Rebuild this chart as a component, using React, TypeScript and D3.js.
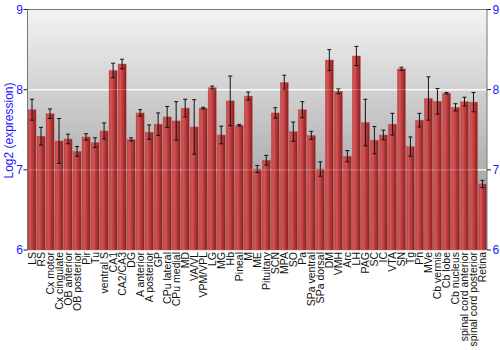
import React from "react";
import * as d3 from "d3";

const categories = ["LS","RS","Cx motor","Cx cingulate","OB anterior","OB posterior","Pir","Tu","ventral S","CA1","CA2/CA3","DG","A anterior","A posterior","GP","CPu lateral","CPu medial","MD","VA/VL","VPM/VPL","LG","MG","Hb","Pineal","M","ME","Pituitary","SCN","MPA","SO","Pa","SPa ventral","SPa dorsal","DM","VMH","Arc","LH","PAG","SC","IC","VTA","SN","Tg","Pn","MVe","Cb vermis","Cb lobe","Cb nucleus","spinal cord anterior","spinal cord posterior","Retina"];
const values = [7.75,7.42,7.70,7.36,7.385,7.23,7.41,7.34,7.485,8.24,8.32,7.38,7.71,7.47,7.57,7.66,7.61,7.77,7.535,7.77,8.025,7.435,7.86,7.556,7.92,7.01,7.12,7.71,8.09,7.476,7.75,7.43,7.01,8.37,7.98,7.17,8.42,7.59,7.37,7.435,7.57,8.26,7.29,7.62,7.89,7.855,7.955,7.78,7.85,7.845,6.824];
const errors = [0.13,0.11,0.06,0.28,0.06,0.06,0.04,0.06,0.1,0.09,0.06,0.02,0.04,0.09,0.14,0.13,0.24,0.11,0.34,0.01,0.02,0.11,0.31,0.01,0.05,0.045,0.06,0.065,0.09,0.12,0.1,0.05,0.09,0.13,0.03,0.07,0.12,0.29,0.17,0.06,0.135,0.02,0.12,0.085,0.27,0.16,0.01,0.045,0.055,0.12,0.045];
const yTicks = [6,7,8,9];
const yDomain = [6,9];

export default function App() {
  const W = 500, H = 350;
  const left = 27.5, right = 487, top = 9.5, bottom = 250;
  const x = d3.scaleBand<string>().domain(categories).range([left, right]).paddingInner(0.1).paddingOuter(0.05);
  const y = d3.scaleLinear().domain(yDomain).range([bottom, top]);
  const blue = "#1a1aff";
  const font = "'Liberation Sans', Arial, sans-serif";
  return (
    <svg width={W} height={H} style={{ position: "absolute", left: 0, top: 0 }} fontFamily={font}>
      <defs>
        <linearGradient id="bg" x1="0" y1="0" x2="0" y2="1">
          <stop offset="0%" stopColor="#f3f3f3" />
          <stop offset="100%" stopColor="#8e8e8e" />
        </linearGradient>
        <linearGradient id="bar" x1="0" y1="0" x2="1" y2="0">
          <stop offset="0%" stopColor="#b83a3a" />
          <stop offset="25%" stopColor="#d45656" />
          <stop offset="60%" stopColor="#b83838" />
          <stop offset="100%" stopColor="#842020" />
        </linearGradient>
      </defs>
      <rect x={left} y={top} width={right - left} height={bottom - top} fill="url(#bg)" />
      {yTicks.filter(t => t > 6 && t < 9).map(t => (
        <line key={"g" + t} x1={left} x2={right} y1={y(t)} y2={y(t)} stroke="#ffffff" strokeOpacity={0.85} strokeWidth={1.5} />
      ))}
      {categories.map((c, i) => {
        const bx = x(c)!;
        const bw = x.bandwidth();
        const v = values[i];
        const e = errors[i];
        const cx = bx + bw / 2;
        return (
          <g key={c}>
            <rect x={bx} y={y(v)} width={bw} height={bottom - y(v)} fill="url(#bar)" stroke="#c95a5a" strokeWidth={0.4} />
            <line x1={cx} x2={cx} y1={y(v + e)} y2={y(v - e)} stroke="#111" strokeWidth={1} />
            <line x1={cx - 2} x2={cx + 2} y1={y(v + e)} y2={y(v + e)} stroke="#111" strokeWidth={1} />
            <line x1={cx - 2} x2={cx + 2} y1={y(v - e)} y2={y(v - e)} stroke="#111" strokeWidth={1} />
          </g>
        );
      })}
      {yTicks.filter(t => t > 6 && t < 9).map(t => (
        <line key={"go" + t} x1={left} x2={right} y1={y(t)} y2={y(t)} stroke="#ffffff" strokeOpacity={0.25} strokeWidth={1} />
      ))}
      <line x1={left} x2={right} y1={top} y2={top} stroke="#777" strokeWidth={1} />
      <line x1={left} x2={left} y1={top} y2={bottom} stroke="#777" strokeWidth={1} />
      <line x1={right} x2={right} y1={top} y2={bottom} stroke="#777" strokeWidth={1} />
      {yTicks.map(t => (
        <g key={"t" + t}>
          <line x1={left - 4} x2={left} y1={y(t)} y2={y(t)} stroke="#222" strokeWidth={1} />
          <line x1={right} x2={right + 4} y1={y(t)} y2={y(t)} stroke="#222" strokeWidth={1} />
          <text x={left - 4.5} y={y(t)} dy="0.36em" textAnchor="end" fontSize={12} fill={blue}>{t}</text>
          <text x={right + 5.5} y={y(t)} dy="0.36em" textAnchor="start" fontSize={12} fill={blue}>{t}</text>
        </g>
      ))}
      <text transform={`translate(8.5,130.5) rotate(-90)`} textAnchor="middle" dy="0.35em" fontSize={12} fill={blue}>Log2 (expression)</text>
      {categories.map(c => (
        <text key={"l" + c} transform={`translate(${x(c)! + x.bandwidth() / 2},${bottom + 2}) rotate(-90)`} textAnchor="end" dy="0.36em" fontSize={10.5} fill="#111">{c}</text>
      ))}
    </svg>
  );
}
